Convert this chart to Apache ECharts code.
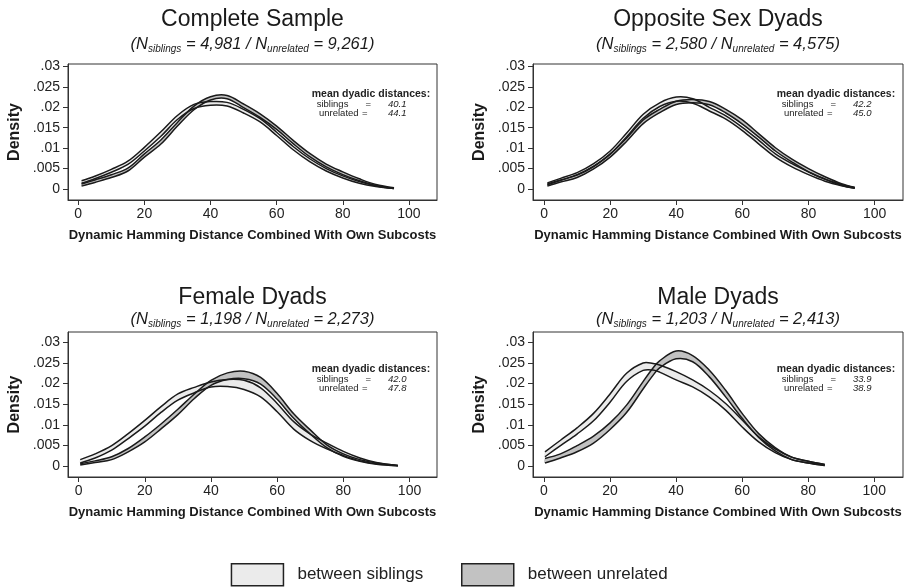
<!DOCTYPE html>
<html><head><meta charset="utf-8">
<script src="https://cdn.jsdelivr.net/npm/echarts@6/dist/echarts.min.js"></script>
<style>html,body{margin:0;padding:0;background:#fff}#c{width:912px;height:587px}</style>
</head><body><div id="c"></div>
<script>
// ---------------- data ----------------
const xTicks = [0, 20, 40, 60, 80, 100];
const yTicks = [0, 0.005, 0.01, 0.015, 0.02, 0.025, 0.03];

const panelTitles = ['Complete Sample', 'Opposite Sex Dyads', 'Female Dyads', 'Male Dyads'];
const nSiblings = ['4,981', '2,580', '1,198', '1,203'];
const nUnrelated = ['9,261', '4,575', '2,273', '2,413'];
const meanSiblings = ['40.1', '42.2', '42.0', '33.9'];
const meanUnrelated = ['44.1', '45.0', '47.8', '38.9'];
const legendNames = ['between siblings', 'between unrelated'];

// Complete sample: confidence bands of kernel density
const completeX     = [1, 5, 10, 15, 20, 25, 30, 35, 40, 45, 50, 55, 60, 65, 70, 75, 80, 85, 90, 95.5];
const completeSibHi = [.0020, .0031, .0048, .0068, .0102, .0140, .0180, .0207, .0214, .0212, .0195, .0172, .0139, .0104, .0074, .0050, .0032, .0018, .0008, .0002];
const completeSibLo = [.0014, .0025, .0041, .0060, .0093, .0129, .0170, .0197, .0205, .0203, .0186, .0164, .0131, .0096, .0067, .0044, .0027, .0014, .0006, .0001];
const completeUnrHi = [.0012, .0022, .0035, .0051, .0086, .0120, .0163, .0203, .0226, .0229, .0208, .0184, .0154, .0119, .0087, .0061, .0042, .0025, .0011, .0003];
const completeUnrLo = [.0007, .0016, .0028, .0044, .0078, .0110, .0154, .0194, .0218, .0221, .0199, .0175, .0146, .0111, .0079, .0054, .0035, .0020, .0008, .0001];

// Opposite sex dyads
const oppositeX     = [1, 5, 10, 15, 20, 25, 30, 35, 40, 45, 50, 55, 60, 65, 70, 75, 80, 85, 90, 94];
const oppositeSibHi = [.0015, .0026, .0040, .0062, .0093, .0137, .0183, .0211, .0225, .0221, .0200, .0179, .0151, .0119, .0086, .0062, .0042, .0024, .0011, .0003];
const oppositeSibLo = [.0010, .0021, .0035, .0056, .0085, .0128, .0173, .0202, .0215, .0210, .0191, .0171, .0143, .0110, .0078, .0054, .0035, .0019, .0008, .0002];
const oppositeUnrHi = [.0012, .0022, .0034, .0055, .0086, .0125, .0169, .0195, .0215, .0219, .0214, .0195, .0169, .0135, .0101, .0073, .0050, .0030, .0013, .0004];
const oppositeUnrLo = [.0007, .0017, .0028, .0049, .0078, .0117, .0160, .0187, .0207, .0211, .0206, .0186, .0159, .0127, .0093, .0066, .0042, .0024, .0009, .0002];

// Female dyads
const femaleX     = [0.5, 5, 10, 15, 20, 25, 30, 35, 40, 45, 50, 55, 60, 65, 70, 75, 80, 85, 90, 96.5];
const femaleSibHi = [.0016, .0030, .0050, .0079, .0111, .0145, .0175, .0191, .0204, .0210, .0208, .0190, .0152, .0108, .0078, .0056, .0036, .0020, .0009, .0002];
const femaleSibLo = [.0008, .0020, .0039, .0067, .0097, .0131, .0160, .0178, .0192, .0193, .0186, .0168, .0132, .0090, .0062, .0042, .0026, .0013, .0006, .0001];
const femaleUnrHi = [.0006, .0013, .0023, .0043, .0071, .0103, .0138, .0175, .0208, .0226, .0230, .0215, .0176, .0127, .0088, .0052, .0030, .0016, .0008, .0002];
const femaleUnrLo = [.0003, .0009, .0016, .0035, .0059, .0091, .0125, .0164, .0196, .0210, .0212, .0199, .0162, .0116, .0078, .0045, .0024, .0012, .0005, .0001];

// Male dyads
const maleX     = [0.3, 5, 10, 15, 20, 25, 30, 33, 35, 40, 45, 50, 55, 60, 65, 70, 75, 80, 85];
const maleSibHi = [.0035, .0063, .0093, .0128, .0175, .0225, .0250, .0249, .0245, .0229, .0209, .0184, .0152, .0112, .0071, .0042, .0022, .0012, .0004];
const maleSibLo = [.0023, .0050, .0078, .0110, .0155, .0205, .0232, .0233, .0228, .0209, .0192, .0168, .0136, .0095, .0059, .0033, .0016, .0008, .0002];
const maleUnrHi = [.0019, .0030, .0050, .0073, .0105, .0148, .0205, .0238, .0255, .0279, .0268, .0233, .0184, .0128, .0079, .0045, .0022, .0012, .0004];
const maleUnrLo = [.0008, .0020, .0035, .0056, .0089, .0130, .0187, .0220, .0238, .0260, .0253, .0217, .0168, .0116, .0070, .0037, .0016, .0008, .0002];

// ---------------- layout / style ----------------
const FONT = '"Liberation Sans", Arial, Helvetica, sans-serif';
const LIGHT = '#ebebeb';
const DARK = '#c2c2c2';
const INK = '#1a1a1a';
const SM = 0.35;
const LW = 1.5;

const layout = [
  {left: 68,  top: 64,  width: 369, height: 136, xmin: -3.1,  xmax: 108.5, ymin: -0.0027, ymax: 0.0306, titleTop: 6.5,   subTop: 34,    annY: 94},
  {left: 533, top: 64,  width: 370, height: 136, xmin: -3.35, xmax: 108.6, ymin: -0.0027, ymax: 0.0306, titleTop: 6.5,   subTop: 34,    annY: 94},
  {left: 68,  top: 332, width: 369, height: 145, xmin: -3.2,  xmax: 108.3, ymin: -0.0026, ymax: 0.0325, titleTop: 284.5, subTop: 309,   annY: 369.5},
  {left: 533, top: 332, width: 370, height: 145, xmin: -3.33, xmax: 108.7, ymin: -0.0026, ymax: 0.0325, titleTop: 284.5, subTop: 309,   annY: 369.5}
];

const panels = [
  {x: completeX, sibHi: completeSibHi, sibLo: completeSibLo, unrHi: completeUnrHi, unrLo: completeUnrLo},
  {x: oppositeX, sibHi: oppositeSibHi, sibLo: oppositeSibLo, unrHi: oppositeUnrHi, unrLo: oppositeUnrLo},
  {x: femaleX,   sibHi: femaleSibHi,   sibLo: femaleSibLo,   unrHi: femaleUnrHi,   unrLo: femaleUnrLo},
  {x: maleX,     sibHi: maleSibHi,     sibLo: maleSibLo,     unrHi: maleUnrHi,     unrLo: maleUnrLo}
];

const yFmt = v => v === 0 ? '0' : String(v).replace(/^0\./, '.');

const grid = [], xAxis = [], yAxis = [], series = [], title = [], graphic = [];

// band fill (custom series): polygon between upper and lower curve, via axis coords
function bandSeries(i, name, color, xs, hi, lo, z) {
  return {
    type: 'custom', name: name, color: color, xAxisIndex: i, yAxisIndex: i, silent: true, clip: true, z: z,
    data: xs.map((x, k) => [x, hi[k], lo[k]]), encode: {x: 0, y: [1, 2]},
    renderItem: function (params, api) {
      if (params.dataIndex !== 0) return null;
      const up = xs.map((x, k) => api.coord([x, hi[k]]));
      const dn = xs.map((x, k) => api.coord([x, lo[k]]));
      return {type: 'polygon', shape: {points: up.concat(dn.slice().reverse()), smooth: SM},
        style: {fill: color, stroke: null}};
    }
  };
}
// outlines (custom series): four smooth curves drawn on top
function outlineSeries(i, xs, curves) {
  return {
    type: 'custom', xAxisIndex: i, yAxisIndex: i, silent: true, clip: true, z: 5,
    data: xs.map((x, k) => [x].concat(curves.map(c => c[k]))), encode: {x: 0, y: [1, 2, 3, 4]},
    renderItem: function (params, api) {
      if (params.dataIndex !== 0) return null;
      return {type: 'group', children: curves.map(c => ({
        type: 'polyline', shape: {points: xs.map((x, k) => api.coord([x, c[k]])), smooth: SM},
        style: {stroke: INK, lineWidth: LW, fill: null, lineJoin: 'round'}
      }))};
    }
  };
}

layout.forEach((L, i) => {
  const P = panels[i];
  grid.push({left: L.left, top: L.top, width: L.width, height: L.height, show: true,
    borderColor: '#333', borderWidth: 1, backgroundColor: '#fff', containLabel: false});
  xAxis.push({type: 'value', gridIndex: i, min: L.xmin, max: L.xmax,
    name: 'Dynamic Hamming Distance Combined With Own Subcosts', nameLocation: 'middle', nameGap: 29,
    nameTextStyle: {fontFamily: FONT, fontWeight: 'bold', fontSize: 13, color: INK},
    axisLine: {show: true, onZero: false, lineStyle: {color: '#333', width: 1}},
    axisTick: {show: true, length: 5, customValues: xTicks, lineStyle: {color: '#333'}},
    axisLabel: {customValues: xTicks, margin: 7, fontFamily: FONT, fontSize: 14, color: '#222'},
    splitLine: {show: false}});
  yAxis.push({type: 'value', gridIndex: i, min: L.ymin, max: L.ymax,
    name: 'Density', nameLocation: 'middle', nameGap: 45,
    nameTextStyle: {fontFamily: FONT, fontWeight: 'bold', fontSize: 16, color: INK},
    axisLine: {show: true, onZero: false, lineStyle: {color: '#333', width: 1}},
    axisTick: {show: true, length: 5, customValues: yTicks, lineStyle: {color: '#333'}},
    axisLabel: {customValues: yTicks, margin: 8, fontFamily: FONT, fontSize: 14, color: '#222', formatter: yFmt},
    splitLine: {show: false}});

  series.push(bandSeries(i, legendNames[0], LIGHT, P.x, P.sibHi, P.sibLo, 2));
  series.push(bandSeries(i, legendNames[1], DARK, P.x, P.unrHi, P.unrLo, 3));
  series.push(outlineSeries(i, P.x, [P.sibHi, P.sibLo, P.unrHi, P.unrLo]));

  const cx = L.left + L.width / 2;
  title.push({text: panelTitles[i], left: cx, top: L.titleTop, textAlign: 'center', padding: 0,
    textStyle: {fontFamily: FONT, fontSize: 23, fontWeight: 'normal', color: INK, lineHeight: 26}});
  title.push({text: '{n|(N}{s|siblings}{n| = ' + nSiblings[i] + ' / N}{s|unrelated}{n| = ' + nUnrelated[i] + ')}',
    left: cx, top: L.subTop, textAlign: 'center', padding: 0,
    textStyle: {fontFamily: FONT, fontSize: 16.5, fontStyle: 'italic', fontWeight: 'normal', color: INK,
      rich: {n: {fontFamily: FONT, fontSize: 16.5, fontStyle: 'italic', color: INK, lineHeight: 20},
             s: {fontFamily: FONT, fontSize: 10, fontStyle: 'italic', color: INK, lineHeight: 8, verticalAlign: 'bottom'}}}});

  const ax = L.left + 243.7, ay = L.annY;
  const t = (x, y, s, font, align) => ({type: 'text', x: x, y: y, silent: true, z: 10,
    style: {text: s, font: font, fill: '#222', align: align, verticalAlign: 'middle', textAlign: align, textVerticalAlign: 'middle'}});
  graphic.push(t(ax, ay, 'mean dyadic distances:', 'bold 10.5px ' + FONT, 'left'));
  graphic.push(t(ax + 5, ay + 10, 'siblings', '9.5px ' + FONT, 'left'));
  graphic.push(t(ax + 56.6, ay + 10, '=', '9.5px ' + FONT, 'center'));
  graphic.push(t(ax + 94.8, ay + 10, meanSiblings[i], 'italic 9.5px ' + FONT, 'right'));
  graphic.push(t(ax + 7.3, ay + 19.3, 'unrelated', '9.5px ' + FONT, 'left'));
  graphic.push(t(ax + 53, ay + 19.3, '=', '9.5px ' + FONT, 'center'));
  graphic.push(t(ax + 94.8, ay + 19.3, meanUnrelated[i], 'italic 9.5px ' + FONT, 'right'));
});

const legendBase = {top: 563, itemWidth: 52, itemHeight: 22, icon: 'rect', selectedMode: false, padding: 0,
  textStyle: {fontFamily: FONT, fontSize: 17, color: '#222', padding: [0, 0, 0, 9]}};
const legend = [
  Object.assign({}, legendBase, {left: 230.7, data: [{name: legendNames[0], itemStyle: {color: LIGHT, borderColor: '#222', borderWidth: 1.5}}]}),
  Object.assign({}, legendBase, {left: 461, data: [{name: legendNames[1], itemStyle: {color: DARK, borderColor: '#222', borderWidth: 1.5}}]})
];

const chart = echarts.init(document.getElementById('c'), null, {renderer: 'canvas'});
chart.setOption({backgroundColor: '#fff', animation: false, title, grid, xAxis, yAxis, series, legend, graphic});
</script></body></html>
